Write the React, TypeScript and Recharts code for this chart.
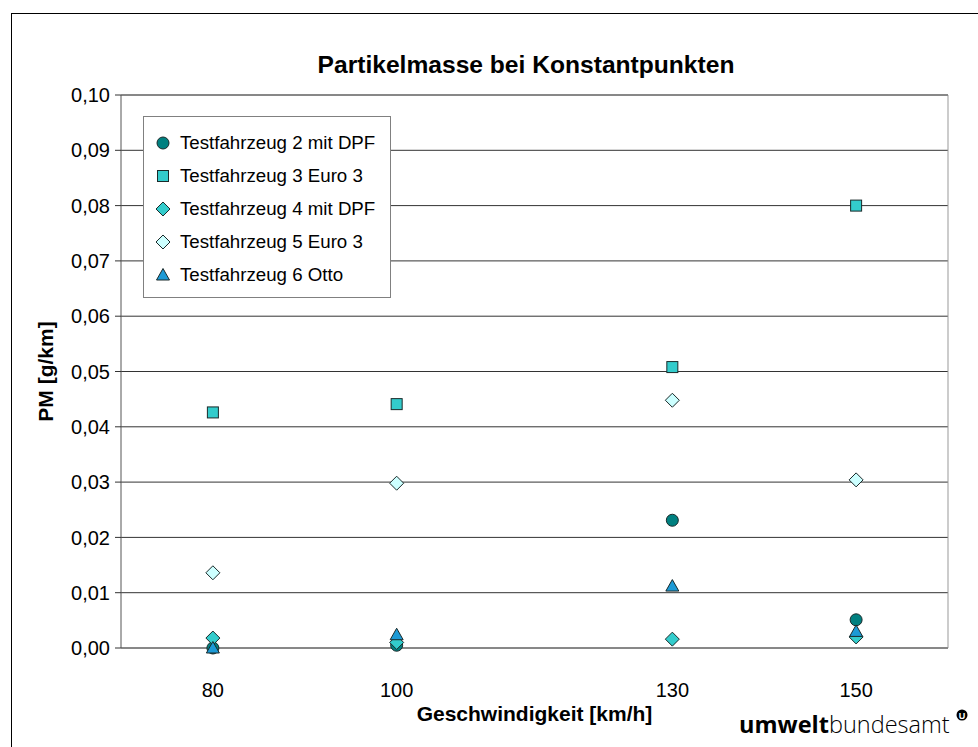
import React from 'react';
import {
  ScatterChart, Scatter, XAxis, YAxis, CartesianGrid, ReferenceLine, Label
} from 'recharts';

const speeds = [80, 100, 130, 150];
const fz2 = [0.0, 0.0005, 0.0231, 0.0051];
const fz3 = [0.0426, 0.0441, 0.0508, 0.08];
const fz4 = [0.0018, 0.001, 0.0016, 0.002];
const fz5 = [0.0136, 0.0298, 0.0448, 0.0304];
const fz6 = [0.0, 0.0024, 0.0112, 0.003];
const yTicks = [0, 0.01, 0.02, 0.03, 0.04, 0.05, 0.06, 0.07, 0.08, 0.09, 0.1];
const xTicks = [80, 100, 130, 150];

type Kind = 'circle' | 'square' | 'diamond' | 'triangle';

const series: { name: string; values: number[]; kind: Kind; fill: string }[] = [
  { name: 'Testfahrzeug 2 mit DPF', values: fz2, kind: 'circle', fill: '#008080' },
  { name: 'Testfahrzeug 3 Euro 3', values: fz3, kind: 'square', fill: '#33CCCC' },
  { name: 'Testfahrzeug 4 mit DPF', values: fz4, kind: 'diamond', fill: '#33CCCC' },
  { name: 'Testfahrzeug 5 Euro 3', values: fz5, kind: 'diamond', fill: '#CCFFFF' },
  { name: 'Testfahrzeug 6 Otto', values: fz6, kind: 'triangle', fill: '#1C9AD6' },
];

const font = 'Arial, "Liberation Sans", sans-serif';

const Marker = ({ kind, cx, cy, fill }: { kind: Kind; cx: number; cy: number; fill: string }) => {
  const stroke = '#1a2a2a';
  if (kind === 'circle') return <circle cx={cx} cy={cy} r={6} fill={fill} stroke={stroke} strokeWidth={1} />;
  if (kind === 'square')
    return <rect x={cx - 5.5} y={cy - 5.5} width={11} height={11} fill={fill} stroke={stroke} strokeWidth={1} />;
  if (kind === 'diamond')
    return (
      <path d={`M${cx},${cy - 7}L${cx + 7},${cy}L${cx},${cy + 7}L${cx - 7},${cy}Z`} fill={fill} stroke={stroke} strokeWidth={1} />
    );
  return (
    <path d={`M${cx},${cy - 6.5}L${cx + 6.5},${cy + 5}L${cx - 6.5},${cy + 5}Z`} fill={fill} stroke={stroke} strokeWidth={1} />
  );
};

// legend box sits inside the plot, top-left
const LegendBox = () => (
  <div
    style={{
      position: 'absolute', left: 143, top: 116, width: 246, height: 170,
      border: '1px solid #808080', background: '#fff',
      fontFamily: font, fontSize: 18.7, color: '#000', paddingTop: 10,
    }}
  >
    {series.map((s) => (
      <div key={s.name} style={{ display: 'flex', alignItems: 'center', height: 32.8 }}>
        <svg width={36} height={20} style={{ flex: 'none' }}>
          <Marker kind={s.kind} cx={19} cy={10} fill={s.fill} />
        </svg>
        <span style={{ whiteSpace: 'nowrap' }}>{s.name}</span>
      </div>
    ))}
  </div>
);

export default function App() {
  return (
    <div style={{ position: 'absolute', left: 0, top: 0, width: 978, height: 747, overflow: 'hidden', background: '#fff' }}>
      <div style={{ position: 'absolute', left: 11, top: 13, width: 1100, height: 900, border: '1px solid #000' }} />
      <div
        style={{
          position: 'absolute', left: 0, width: 1052, top: 51, textAlign: 'center',
          fontFamily: font, fontWeight: 'bold', fontSize: 24.6,
        }}
      >
        Partikelmasse bei Konstantpunkten
      </div>
      <div style={{ position: 'absolute', left: 0, top: 0 }}>
        <ScatterChart width={978} height={747} margin={{ top: 95, right: 30, bottom: 69, left: 0 }}>
          <CartesianGrid vertical={false} stroke="#333" />
          <XAxis
            type="number" dataKey="x" domain={[70, 160]} ticks={xTicks} tickLine={false}
            axisLine={{ stroke: '#777' }} tickMargin={29} allowDataOverflow
            tick={{ fill: '#000', fontSize: 20, fontFamily: font }}
          >
            <Label value="Geschwindigkeit [km/h]" position="bottom" offset={28}
              style={{ fontWeight: 'bold', fontSize: 21, fontFamily: font, fill: '#000' }} />
          </XAxis>
          <YAxis
            type="number" dataKey="y" domain={[0, 0.1]} ticks={yTicks} width={121}
            tickFormatter={(v: number) => v.toFixed(2).replace('.', ',')}
            tickSize={6} tickMargin={5} tickLine={{ stroke: '#333' }} axisLine={{ stroke: '#555' }}
            tick={{ fill: '#000', fontSize: 20, fontFamily: font }}
          >
            <Label value="PM [g/km]" angle={-90} position="insideLeft" offset={46}
              style={{ fontWeight: 'bold', fontSize: 21, fontFamily: font, fill: '#000', textAnchor: 'middle' }} />
          </YAxis>
          <ReferenceLine x={160} stroke="#999" />
          <ReferenceLine y={0.1} stroke="#777" />
          {series.map((s) => (
            <Scatter
              key={s.name}
              name={s.name}
              data={speeds.map((x, i) => ({ x, y: s.values[i] }))}
              isAnimationActive={false}
              shape={(p: any) => <Marker kind={s.kind} cx={p.cx} cy={p.cy} fill={s.fill} />}
            />
          ))}
        </ScatterChart>
      </div>
      <LegendBox />
      <div style={{ position: 'absolute', left: 739, top: 708, fontFamily: '"Open Sans", sans-serif', fontSize: 23.5, color: '#000', whiteSpace: 'nowrap' }}>
        <span style={{ fontWeight: 'bold' }}>umwelt</span>
        <span style={{ fontWeight: 300 }}>bundesamt</span>
      </div>
      <svg style={{ position: 'absolute', left: 956, top: 709 }} width={12} height={12}>
        <circle cx={6} cy={6} r={5.5} fill="#000" />
        <text x={6} y={9.5} textAnchor="middle" fontSize={9} fontWeight="bold" fill="#fff" fontFamily={font}>U</text>
      </svg>
    </div>
  );
}
